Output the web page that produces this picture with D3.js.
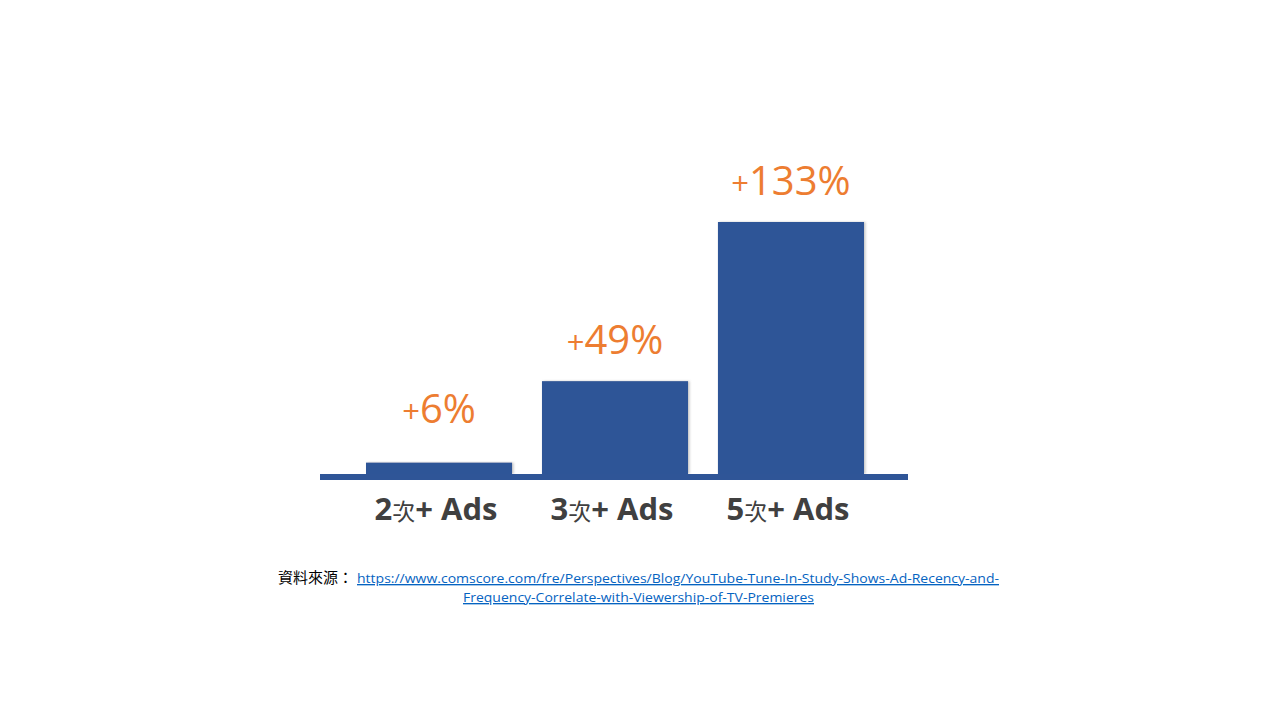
<!DOCTYPE html>
<html>
<head>
<meta charset="utf-8">
<script src="https://cdn.jsdelivr.net/npm/d3@7"></script>
<style>
  html, body { margin: 0; padding: 0; background: #ffffff; }
  svg { display: block; }
</style>
</head>
<body>
<svg id="chart" width="1280" height="720"></svg>
<script>
// ---- data ----
const categories = ["2次+ Ads", "3次+ Ads", "5次+ Ads"];
const values = [6, 49, 133];
const sourcePrefix = "資料來源：";
const sourceUrlLines = [
  "https://www.comscore.com/fre/Perspectives/Blog/YouTube-Tune-In-Study-Shows-Ad-Recency-and-",
  "Frequency-Correlate-with-Viewership-of-TV-Premieres"
];

// ---- styles ----
const barColor = "#2F5597";
const labelColor = "#ED7D31";
const catColor = "#404040";
const latinFont = "'Open Sans', 'Noto Sans', sans-serif";
const cjkFont = "'Noto Sans CJK TC', 'Noto Sans CJK SC', sans-serif";

const svg = d3.select("#chart");
svg.append("rect").attr("width", 1280).attr("height", 720).attr("fill", "#ffffff");

const defs = svg.append("defs");
const f = defs.append("filter").attr("id", "shadow")
  .attr("x", "-10%").attr("y", "-10%").attr("width", "120%").attr("height", "120%");
f.append("feDropShadow").attr("dx", 1.5).attr("dy", 0).attr("stdDeviation", 1)
  .attr("flood-color", "#808080").attr("flood-opacity", 0.45);

const x = d3.scaleBand().domain(categories).range([366, 864])
  .paddingInner(0.17).paddingOuter(0);
const y = d3.scaleLinear().domain([0, 133]).range([474, 222]);

// bars
svg.append("g").selectAll("rect").data(values).join("rect")
  .attr("x", (d, i) => x(categories[i]))
  .attr("y", d => y(d))
  .attr("width", x.bandwidth())
  .attr("height", d => y(0) - y(d))
  .attr("fill", barColor)
  .attr("filter", "url(#shadow)");

// baseline
const [r0, r1] = x.range();
svg.append("line")
  .attr("x1", 320).attr("x2", 908)
  .attr("y1", y(0) + 3).attr("y2", y(0) + 3)
  .attr("stroke", barColor).attr("stroke-width", 6);

// value labels
const vl = svg.append("g").selectAll("text").data(values).join("text")
  .attr("x", (d, i) => x(categories[i]) + x.bandwidth() / 2)
  .attr("y", d => Math.min(y(d), 450) - 27)
  .attr("text-anchor", "middle")
  .attr("fill", labelColor)
  .attr("font-family", latinFont);
vl.append("tspan").attr("font-size", 31).text("+");
vl.append("tspan").attr("font-size", 40).text(d => d + "%");

// category labels
const cl = svg.append("g").selectAll("text").data(categories).join("text")
  .attr("x", d => x(d) + x.bandwidth() / 2 - 3)
  .attr("y", 520)
  .attr("text-anchor", "middle")
  .attr("fill", catColor)
  .attr("font-family", latinFont);
cl.each(function(d) {
  const m = d.match(/^(\d+)(次)(.*)$/);
  const t = d3.select(this);
  t.append("tspan").attr("font-size", 31).attr("font-weight", 700).text(m[1]);
  t.append("tspan").attr("font-size", 23).attr("font-weight", 400)
    .attr("font-family", cjkFont).text(m[2]);
  t.append("tspan").attr("font-size", 31).attr("font-weight", 700).text(m[3]);
});

// source
svg.append("text")
  .attr("x", 278).attr("y", 583)
  .attr("font-family", cjkFont).attr("font-size", 15).attr("fill", "#000000")
  .text(sourcePrefix);
svg.append("text")
  .attr("x", 357).attr("y", 583)
  .attr("font-family", latinFont).attr("font-size", 13.5).attr("fill", "#0563C1")
  .attr("text-decoration", "underline")
  .attr("textLength", 642).attr("lengthAdjust", "spacingAndGlyphs")
  .text(sourceUrlLines[0]);
svg.append("text")
  .attr("x", 463).attr("y", 602)
  .attr("font-family", latinFont).attr("font-size", 13.5).attr("fill", "#0563C1")
  .attr("text-decoration", "underline")
  .attr("textLength", 351).attr("lengthAdjust", "spacingAndGlyphs")
  .text(sourceUrlLines[1]);
</script>
</body>
</html>
